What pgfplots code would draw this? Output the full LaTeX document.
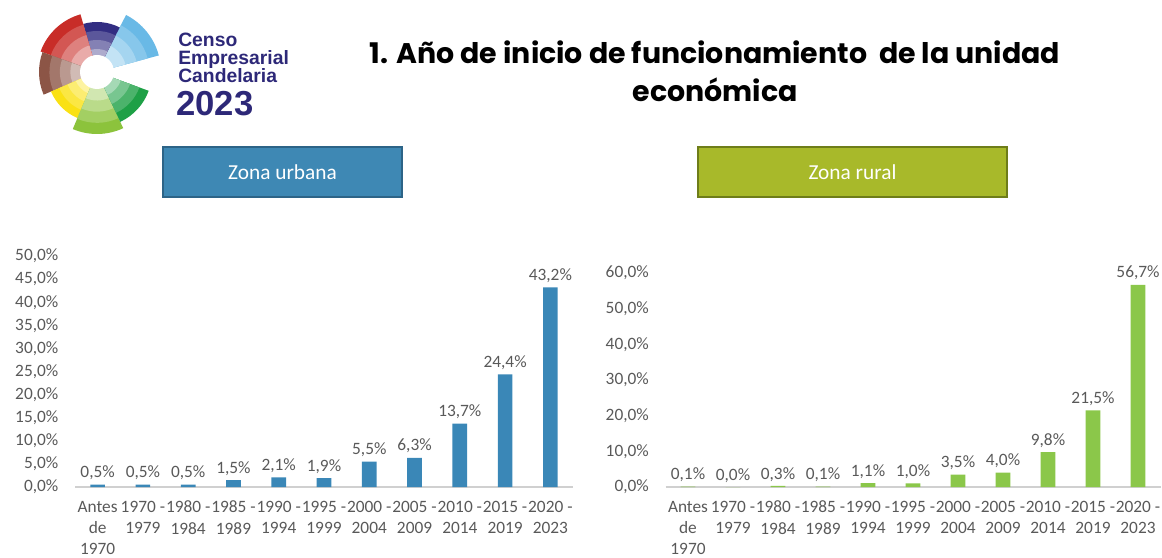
\documentclass[border=0pt]{standalone}
\usepackage{fontspec}
\usepackage{pgfplots}
\pgfplotsset{compat=1.18}
\setmainfont{Carlito}
\newfontfamily\titlefont{Poppins}
\newfontfamily\logofont{Liberation Sans}
\definecolor{labelgray}{HTML}{595959}
\definecolor{axisgray}{HTML}{D0D0D0}
\definecolor{urbanbar}{RGB}{58,135,183}
\definecolor{ruralbar}{RGB}{139,199,74}
\definecolor{urbanbox}{RGB}{62,136,180}
\definecolor{urbanborder}{RGB}{45,100,135}
\definecolor{ruralbox}{RGB}{168,185,42}
\definecolor{ruralborder}{RGB}{110,125,25}
\definecolor{logonavy}{RGB}{45,40,120}
\definecolor{lgblue}{RGB}{105,185,230}
\definecolor{lgnavy}{RGB}{50,45,130}
\definecolor{lgred}{RGB}{200,45,40}
\definecolor{lgbrown}{RGB}{140,85,70}
\definecolor{lgyellow}{RGB}{250,225,20}
\definecolor{lglgreen}{RGB}{140,195,60}
\definecolor{lggreen}{RGB}{30,160,70}

\pgfplotsset{
  /pgf/number format/assume math mode=true,
  censo/.style={
    ybar, bar width=11pt, scale only axis,
    xmin=-0.5, xmax=10.5, ymin=0, enlargelimits=false,
    xtick={0,...,10},
    xticklabels={{Antes\\de\\1970},{1970 -\\1979},{1980 -\\1984},{1985 -\\1989},{1990 -\\1994},{1995 -\\1999},{2000 -\\2004},{2005 -\\2009},{2010 -\\2014},{2015 -\\2019},{2020 -\\2023}},
    xticklabel style={align=center, font=\fontsize{13}{16}\selectfont, text=labelgray, yshift=-7pt},
    yticklabel style={font=\fontsize{13}{15}\selectfont, text=labelgray, xshift=-9pt},
    yticklabel={\pgfmathprintnumber[fixed,fixed zerofill,precision=1,use comma]{\tick}\%},
    axis x line*=bottom, axis y line*=left,
    x axis line style={draw=axisgray, line width=0.8pt},
    y axis line style={draw=none},
    major tick length=0pt,
    nodes near coords={\pgfmathprintnumber[fixed,fixed zerofill,precision=1,use comma]{\pgfplotspointmeta}\%},
    nodes near coords style={font=\fontsize{13}{15}\selectfont, text=labelgray},
  }
}

\begin{document}
\begin{tikzpicture}[x=0.75pt, y=0.75pt]
\useasboundingbox (0,0) rectangle (1162,557);

% logo
\newcommand\sector[4]{%
  \foreach \f/\k in {1/100, 0.82/80, 0.64/60, 0.46/40}{%
    \fill[#1!\k!white] (97,485) -- ++(#2:\f*#4) arc[start angle=#2, end angle=#3, radius=\f*#4] -- cycle;
  }}
\sector{lgblue}{15}{63}{64}
\sector{lgnavy}{63}{106}{50}
\sector{lgred}{106}{160}{60}
\sector{lgbrown}{160}{203}{58}
\sector{lgyellow}{203}{247}{50}
\sector{lglgreen}{247}{295}{62}
\sector{lggreen}{295}{340}{55}
\fill[white] (97,485) circle[radius=17];
\node[anchor=base west, inner sep=0, text=logonavy, font=\logofont\bfseries\fontsize{14.5}{14}\selectfont] at (178,557-47) {Censo};
\node[anchor=base west, inner sep=0, text=logonavy, font=\logofont\bfseries\fontsize{14.5}{14}\selectfont] at (178,557-65) {Empresarial};
\node[anchor=base west, inner sep=0, text=logonavy, font=\logofont\bfseries\fontsize{14.5}{14}\selectfont] at (178,557-83) {Candelaria};
\node[anchor=base west, inner sep=0, text=logonavy, font=\logofont\bfseries\fontsize{26}{26}\selectfont] at (176,557-116) {\textbf{2023}};

% title
\node[align=center, font=\titlefont\bfseries\fontsize{21.3}{28.5}\selectfont] at (715,557-71) {1. Año de inicio de funcionamiento\ \ de la unidad\\económica};

% header boxes
\draw[fill=urbanbox, draw=urbanborder, line width=1pt] (163,557-147) rectangle (402,557-197);
\node[text=white, font=\fontsize{16}{18}\selectfont] at (282.5,557-172) {Zona urbana};
\draw[fill=ruralbox, draw=ruralborder, line width=1pt] (698,557-147) rectangle (1007,557-197);
\node[text=white, font=\fontsize{16}{18}\selectfont] at (852.5,557-172) {Zona rural};

\begin{axis}[censo, at={(56.25pt,52.5pt)}, anchor=south west,
  width=373.5pt, height=173.25pt, ymax=50, ytick={0,5,...,50}]
\addplot[fill=urbanbar, draw=none] coordinates {
  (0,0.5) (1,0.5) (2,0.5) (3,1.5) (4,2.1) (5,1.9) (6,5.5) (7,6.3) (8,13.7) (9,24.4) (10,43.2)};
\end{axis}

\begin{axis}[censo, at={(499.125pt,52.5pt)}, anchor=south west,
  width=371.25pt, height=160.5pt, ymax=60, ytick={0,10,...,60}]
\addplot[fill=ruralbar, draw=none] coordinates {
  (0,0.1) (1,0.0) (2,0.3) (3,0.1) (4,1.1) (5,1.0) (6,3.5) (7,4.0) (8,9.8) (9,21.5) (10,56.7)};
\end{axis}
\end{tikzpicture}
\end{document}
